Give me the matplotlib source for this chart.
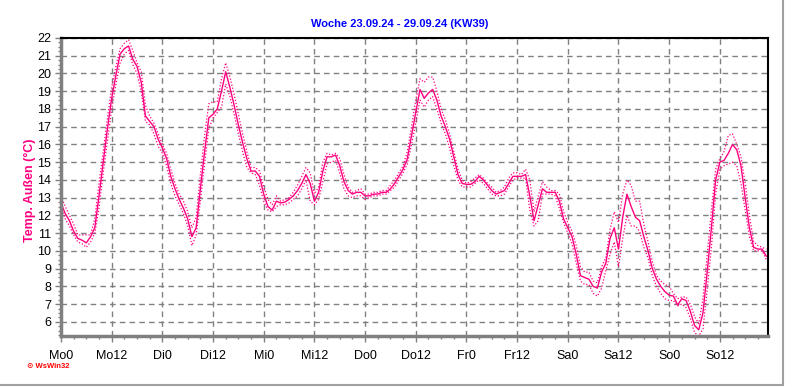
import numpy as np
import matplotlib
matplotlib.use("Agg")
import matplotlib.pyplot as plt
from matplotlib.ticker import MultipleLocator
from matplotlib.patches import Rectangle

plt.rcParams['font.family'] = ['Liberation Sans', 'DejaVu Sans']

# Stundenwerte Temperatur außen (Mittel, Max, Min), KW39
temp = [12.7, 12.1, 11.7, 11.1, 10.7, 10.6, 10.45, 10.8, 11.3, 13.1, 15.0, 16.9,
        18.6, 19.9, 21.1, 21.4, 21.55, 20.8, 20.4, 19.5, 17.6, 17.3, 17.0, 16.3,
        15.8, 15.2, 14.2, 13.5, 12.9, 12.4, 11.8, 10.8, 11.3, 13.5, 15.6, 17.5,
        17.7, 18.0, 19.0, 20.1, 19.2, 18.2, 17.1, 16.1, 15.2, 14.5, 14.5, 14.2,
        13.2, 12.5, 12.3, 12.8, 12.7, 12.75, 12.9, 13.1, 13.4, 13.8, 14.3, 13.8,
        12.8, 13.3, 14.5, 15.3, 15.3, 15.4, 14.8, 13.9, 13.4, 13.2, 13.3, 13.3,
        13.1, 13.1, 13.2, 13.2, 13.3, 13.3, 13.5, 13.8, 14.2, 14.6, 15.2, 16.5,
        17.8, 19.1, 18.6, 18.9, 19.1, 18.5, 17.6, 17.0, 16.3, 15.3, 14.3, 13.8,
        13.75, 13.75, 13.9, 14.2, 14.0, 13.7, 13.4, 13.2, 13.3, 13.4, 13.8, 14.2,
        14.2, 14.2, 14.3, 13.1, 11.7, 12.6, 13.5, 13.3, 13.3, 13.3, 12.8, 11.8,
        11.3, 10.8, 9.8, 8.6, 8.5, 8.4, 8.0, 7.9, 8.8, 9.3, 10.7, 11.3,
        10.1, 11.9, 13.2, 12.5, 11.9, 11.7, 10.8, 10.0, 9.0, 8.4, 8.0, 7.7,
        7.5, 7.45, 6.95, 7.3, 7.2, 6.6, 5.8, 5.55, 6.5, 8.8, 11.3, 14.0,
        15.0, 15.1, 15.5, 16.0, 15.7, 14.8, 13.0, 11.3, 10.2, 10.1, 10.1, 9.7]

temp_max = [13.1, 12.5, 12.0, 11.5, 10.9, 10.9, 10.9, 10.9, 11.8, 13.8, 15.6, 17.5,
            19.2, 20.4, 21.4, 21.7, 21.9, 21.3, 20.6, 20.1, 18.2, 17.6, 17.2, 16.6,
            16.0, 15.5, 14.6, 13.8, 13.2, 12.8, 12.2, 11.3, 11.9, 14.3, 16.5, 18.3,
            18.4, 18.4, 19.7, 20.6, 19.8, 18.8, 17.7, 16.6, 15.6, 14.7, 14.7, 14.5,
            13.6, 12.9, 12.6, 13.1, 12.8, 12.9, 13.0, 13.3, 13.7, 14.2, 14.7, 14.4,
            13.2, 13.6, 15.0, 15.5, 15.4, 15.5, 15.2, 14.3, 13.6, 13.3, 13.4, 13.5,
            13.2, 13.2, 13.3, 13.3, 13.4, 13.4, 13.7, 14.0, 14.4, 14.8, 15.6, 17.0,
            18.5, 19.7, 19.5, 19.8, 19.8, 19.0, 18.0, 17.4, 16.6, 15.6, 14.6, 14.0,
            13.8, 13.9, 14.1, 14.3, 14.1, 13.8, 13.6, 13.3, 13.4, 13.6, 14.1, 14.4,
            14.4, 14.3, 14.6, 14.0, 12.2, 13.1, 13.9, 13.6, 13.4, 13.4, 13.2, 12.2,
            11.6, 11.1, 10.3, 9.1, 8.8, 8.8, 8.3, 8.2, 9.1, 9.6, 11.2, 12.2,
            11.6, 13.2, 14.0, 13.7, 12.8, 12.8, 11.5, 10.5, 9.4, 8.6, 8.3, 8.1,
            8.0, 7.6, 7.3, 7.4, 7.4, 7.0, 6.3, 5.9, 7.3, 9.8, 12.3, 14.6,
            15.2, 15.6, 16.5, 16.6, 16.0, 15.3, 13.8, 12.0, 10.5, 10.3, 10.2, 10.1]

temp_min = [12.5, 11.8, 11.4, 10.9, 10.5, 10.4, 10.2, 10.5, 11.0, 12.4, 14.4, 16.2,
            18.0, 19.4, 20.6, 21.1, 21.3, 20.5, 20.0, 19.0, 17.3, 17.1, 16.6, 15.9,
            15.5, 14.8, 13.8, 13.1, 12.6, 12.1, 11.4, 10.3, 10.9, 12.8, 14.9, 16.9,
            17.5, 17.8, 18.1, 19.4, 18.7, 17.7, 16.6, 15.6, 14.7, 14.4, 14.3, 13.7,
            12.8, 12.3, 12.2, 12.5, 12.6, 12.6, 12.7, 12.9, 13.1, 13.5, 14.0, 12.8,
            12.6, 12.9, 13.9, 14.9, 15.0, 15.1, 14.4, 13.5, 13.1, 13.0, 13.1, 13.1,
            12.9, 13.0, 13.1, 13.1, 13.2, 13.2, 13.4, 13.6, 14.0, 14.4, 14.9, 16.0,
            17.2, 18.5, 18.1, 18.5, 18.7, 18.0, 17.2, 16.6, 15.8, 14.8, 14.0, 13.6,
            13.6, 13.6, 13.8, 14.0, 13.8, 13.5, 13.2, 13.1, 13.1, 13.2, 13.6, 14.0,
            14.1, 14.1, 14.1, 12.3, 11.4, 11.7, 13.2, 13.2, 13.2, 13.1, 12.4, 11.6,
            11.0, 10.4, 9.3, 8.3, 8.1, 8.1, 7.6, 7.45, 7.9, 8.9, 9.8, 10.5,
            9.1, 10.7, 12.0, 11.4, 11.4, 11.1, 10.2, 9.6, 8.6, 8.0, 7.6, 7.3,
            7.2, 7.2, 6.9, 7.0, 6.8, 6.2, 5.4, 5.2, 5.6, 7.8, 10.2, 13.2,
            14.6, 14.8, 14.9, 15.0, 14.8, 13.8, 12.3, 10.8, 10.0, 10.0, 10.0, 9.5]

hours = np.arange(len(temp))
tick_labels = ["Mo0", "Mo12", "Di0", "Di12", "Mi0", "Mi12", "Do0", "Do12",
               "Fr0", "Fr12", "Sa0", "Sa12", "So0", "So12"]

pink = "#ff0080"

fig = plt.figure(figsize=(7.92, 3.87), dpi=100)
ax = fig.add_axes([61 / 792, 1 - 336 / 387, 707 / 792, 298 / 387])

ax.plot(hours, temp_max, color=pink, lw=0.9, ls=(0, (1, 1.5)))
ax.plot(hours, temp_min, color=pink, lw=0.9, ls=(0, (1, 1.5)))
ax.plot(hours, temp, color=pink, lw=1.0)

ax.set_xlim(0, 167.4)
ax.set_ylim(5.2, 22)
ax.set_xticks(np.arange(0, 168, 12))
ax.set_xticklabels(tick_labels)
ax.xaxis.set_minor_locator(MultipleLocator(3))
ax.set_yticks(np.arange(6, 23, 1))
ax.yaxis.set_minor_locator(MultipleLocator(0.25))

ax.grid(True, which="major", color="#808080", ls=(0, (4, 3)), lw=1.0)
ax.tick_params(axis="both", which="major", labelsize=9, length=4, width=1,
               color="#808080", pad=3)
ax.tick_params(axis="both", which="minor", length=2.5, width=1, color="#808080")
ax.tick_params(axis="x", pad=6)

for side in ["left", "bottom"]:
    ax.spines[side].set_color("#808080")
    ax.spines[side].set_linewidth(2.5)
for side in ["top", "right"]:
    ax.spines[side].set_color("black")
    ax.spines[side].set_linewidth(1.5)

fig.text(0.505, 1 - 24 / 387, "Woche 23.09.24 - 29.09.24 (KW39)", color="#0000ff",
         fontsize=8, fontweight="bold", ha="center", va="center")
fig.text(30 / 792, 1 - 190 / 387, "Temp. Außen (°C)", color=pink, fontsize=9,
         fontweight="bold", rotation=90, ha="center", va="center")
fig.text(27 / 792, 1 - 367 / 387, "\u2299 WsWin32", color="red", fontsize=5.5,
         fontweight="bold", ha="left", va="center")

# Fensterrahmen rechts/unten
fig.patches.append(Rectangle((-0.01, 2 / 387), 1 - 1 / 792, 1.02,
                             transform=fig.transFigure, fill=False,
                             edgecolor="#a0a0a0", lw=1.5))

fig.savefig("out.png", dpi=100)
